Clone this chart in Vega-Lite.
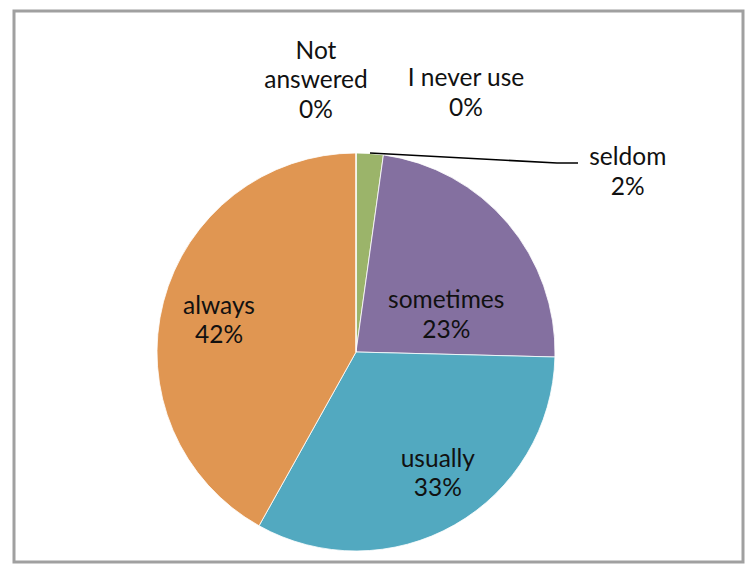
{
  "$schema": "https://vega.github.io/schema/vega-lite/v6.json",
  "autosize": {"type": "fit", "contains": "padding"},
  "width": 750,
  "height": 574,
  "padding": {"left": 14, "top": 11, "right": 7, "bottom": 12},
  "background": "white",
  "config": {
    "view": {"stroke": "#a0a0a0", "strokeWidth": 3},
    "text": {"font": "Lato", "fontSize": 24.5, "color": "#111111", "lineBreak": "\n", "lineHeight": 29.5}
  },
  "datasets": {
    "slices": [
      {"cat": "I never use", "value": 0, "order": 1, "label": "I never use\n0%"},
      {"cat": "seldom", "value": 2.2, "order": 2, "label": "seldom\n2%"},
      {"cat": "sometimes", "value": 23.2, "order": 3, "label": "sometimes\n23%"},
      {"cat": "usually", "value": 32.7, "order": 4, "label": "usually\n33%"},
      {"cat": "always", "value": 41.9, "order": 5, "label": "always\n42%"},
      {"cat": "Not answered", "value": 0, "order": 6, "label": "Not\nanswered\n0%"}
    ],
    "leader": [
      {"step": 1, "lx": 0.0704, "ly": 1.0},
      {"step": 2, "lx": 1.0101, "ly": 0.9497},
      {"step": 3, "lx": 1.1156, "ly": 0.9497}
    ]
  },
  "data": {"name": "slices"},
  "transform": [
    {"stack": "value", "groupby": [], "sort": [{"field": "order", "order": "ascending"}], "as": ["v0", "v1"]},
    {"calculate": "(datum.v0 + datum.v1) / 2", "as": "mid"}
  ],
  "layer": [
    {
      "mark": {"type": "arc", "outerRadius": 199, "xOffset": -22.5, "yOffset": 65.5, "stroke": "white", "strokeWidth": 0.8},
      "encoding": {
        "theta": {"field": "v0", "type": "quantitative", "scale": {"domain": [0, 100]}},
        "theta2": {"field": "v1"},
        "color": {
          "field": "cat", "type": "nominal", "legend": null,
          "scale": {
            "domain": ["I never use", "seldom", "sometimes", "usually", "always", "Not answered"],
            "range": ["#c0504d", "#9bb46a", "#8470a0", "#52a9c0", "#e09652", "#4f81bd"]
          }
        }
      }
    },
    {
      "transform": [{"filter": "datum.cat === 'sometimes'"}],
      "mark": {"type": "text", "radius": 100, "xOffset": -22.5, "yOffset": 65.5, "dx": 14, "dy": 14},
      "encoding": {"theta": {"field": "mid", "type": "quantitative", "scale": {"domain": [0, 100]}}, "text": {"field": "label"}}
    },
    {
      "transform": [{"filter": "datum.cat === 'usually'"}],
      "mark": {"type": "text", "radius": 145, "xOffset": -22.5, "yOffset": 65.5, "dx": 10, "dy": -18},
      "encoding": {"theta": {"field": "mid", "type": "quantitative", "scale": {"domain": [0, 100]}}, "text": {"field": "label"}}
    },
    {
      "transform": [{"filter": "datum.cat === 'always'"}],
      "mark": {"type": "text", "radius": 140, "xOffset": -22.5, "yOffset": 65.5, "dx": -1.5, "dy": -10},
      "encoding": {"theta": {"field": "mid", "type": "quantitative", "scale": {"domain": [0, 100]}}, "text": {"field": "label"}}
    },
    {
      "transform": [{"filter": "datum.cat === 'seldom'"}],
      "mark": {"type": "text", "radius": 199, "xOffset": -22.5, "yOffset": 65.5, "dx": 258, "dy": 5},
      "encoding": {"theta": {"field": "mid", "type": "quantitative", "scale": {"domain": [0, 100]}}, "text": {"field": "label"}}
    },
    {
      "transform": [{"filter": "datum.cat === 'I never use'"}],
      "mark": {"type": "text", "radius": 259, "xOffset": -22.5, "yOffset": 65.5, "dx": 110, "dy": -14},
      "encoding": {"theta": {"field": "mid", "type": "quantitative", "scale": {"domain": [0, 100]}}, "text": {"field": "label"}}
    },
    {
      "transform": [{"filter": "datum.cat === 'Not answered'"}],
      "mark": {"type": "text", "radius": 271.5, "xOffset": -22.5, "yOffset": 65.5, "dx": -40, "dy": -29},
      "encoding": {"theta": {"field": "mid", "type": "quantitative", "scale": {"domain": [0, 100]}}, "text": {"field": "label"}}
    },
    {
      "data": {"name": "leader"},
      "mark": {"type": "line", "color": "black", "strokeWidth": 1.6},
      "encoding": {
        "x": {"field": "lx", "type": "quantitative", "axis": null, "scale": {"domain": [-1.7186, 1.9447], "nice": false, "zero": false}},
        "y": {"field": "ly", "type": "quantitative", "axis": null, "scale": {"domain": [-1.0553, 1.7136], "nice": false, "zero": false}},
        "order": {"field": "step"}
      }
    }
  ]
}
